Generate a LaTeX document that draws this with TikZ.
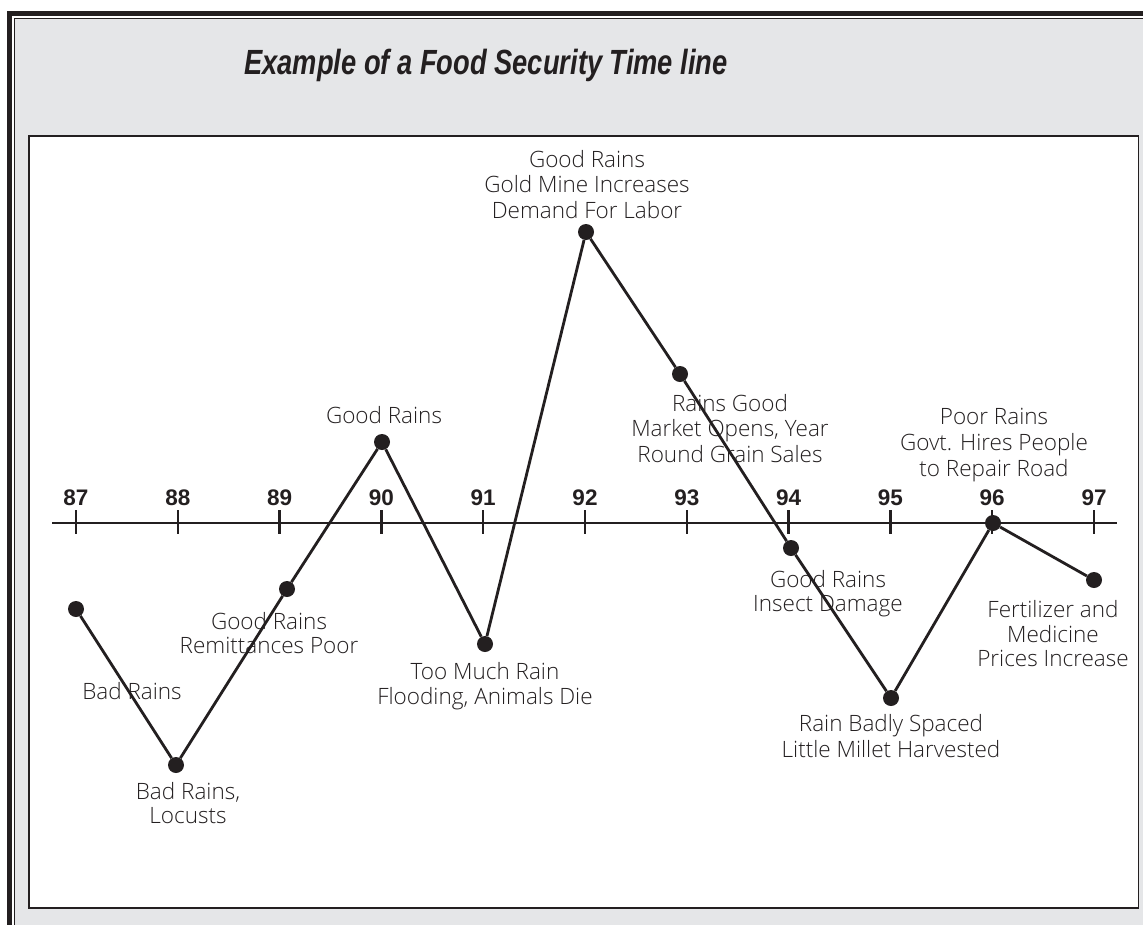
\documentclass[tikz,border=0pt]{standalone}
\usepackage{graphicx}
\usepackage{fontspec}
\setmainfont{Open Sans}[UprightFont={* Light}]
\newfontfamily\arialfont{Liberation Sans}
\definecolor{panelgray}{RGB}{229,230,232}
\definecolor{ink}{RGB}{35,31,32}
\newcommand\lst{\rule[-7.5pt]{0pt}{24pt}}
\begin{document}
\begin{tikzpicture}[x=1pt,y=-1pt,
  dot/.style={circle,fill=ink,inner sep=0pt,minimum size=16pt},
  conn/.style={draw=ink,line width=2.8pt},
  lbl/.style={align=center,inner sep=0pt,font=\fontsize{22.5}{24}\selectfont,text=ink},
  yr/.style={anchor=base,inner sep=0pt,font=\arialfont\bfseries\fontsize{22.5}{24}\selectfont,text=ink},
  tickmark/.style={draw=ink,line width=2.4pt}]
\useasboundingbox (0,0) rectangle (1143,924);
\clip (0,0) rectangle (1143,924);
\fill[white] (0,0) rectangle (1143,924);
% frames
\draw[line width=5pt, draw=ink] (9.5,13.5) rectangle (1170,950);
\filldraw[fill=panelgray, draw=ink, line width=1pt] (14,18.5) rectangle (1170,950);
\filldraw[fill=white, draw=ink, line width=1.5pt] (29,136) rectangle (1138.5,908);
% title
\node[anchor=base, inner sep=0pt, text=ink, font=\arialfont\bfseries\itshape\fontsize{35}{40}\selectfont] (title) at (486,74) {\scalebox{0.78}[1]{Example of a Food Security Time line}};
% axis
\coordinate (axL) at (52,523);
\coordinate (axR) at (1117,523);
\draw[draw=ink, line width=1.4pt] (axL) -- (axR);
\foreach \yy [count=\i from 0] in {87,...,97} {
  \pgfmathsetmacro\xx{76+101.8*\i}
  \draw[tickmark] (\xx,510) -- (\xx,534);
  \node[yr] (y\yy) at (\xx,505) {\yy};
}
% points
\node[dot] (p87) at (76,609) {};
\node[dot] (p88) at (176,765) {};
\node[dot] (p89) at (287,589) {};
\node[dot] (p90) at (382,442) {};
\node[dot] (p91) at (485,644) {};
\node[dot] (p92) at (586,232) {};
\node[dot] (p93) at (680,374) {};
\node[dot] (p94) at (791,548) {};
\node[dot] (p95) at (891,698) {};
\node[dot] (p96) at (993,523) {};
\node[dot] (p97) at (1094,580) {};
\draw[conn] (p87) -- (p88);
\draw[conn] (p88) -- (p89);
\draw[conn] (p89) -- (p90);
\draw[conn] (p90) -- (p91);
\draw[conn] (p91) -- (p92);
\draw[conn] (p92) -- (p93);
\draw[conn] (p93) -- (p94);
\draw[conn] (p94) -- (p95);
\draw[conn] (p95) -- (p96);
\draw[conn] (p96) -- (p97);
% labels
\node[lbl] (l87) at (132,695) {\lst Bad Rains};
\node[lbl] (l88) at (188,807) {\lst Bad Rains,\\\lst Locusts};
\node[lbl] (l89) at (269,636.5) {\lst Good Rains\\\lst Remittances Poor};
\node[lbl] (l90) at (384,419) {\lst Good Rains};
\node[lbl] (l91) at (485,687) {\lst Too Much Rain\\\lst Flooding, Animals Die};
\node[lbl] (l92) at (587,188) {\lst Good Rains\\\lst Gold Mine Increases\\\lst Demand For Labor};
\node[lbl] (l93) at (730,432) {\lst Rains Good\\\lst Market Opens, Year\\\lst Round Grain Sales};
\node[lbl] (l94) at (828,595) {\lst Good Rains\\\lst Insect Damage};
\node[lbl] (l95) at (891,739.5) {\lst Rain Badly Spaced\\\lst Little Millet Harvested};
\node[lbl] (l96) at (994,446) {\lst Poor Rains\\\lst Govt. Hires People\\\lst to Repair Road};
\node[lbl] (l97) at (1053,637) {\lst Fertilizer and\\\lst Medicine\\\lst Prices Increase};
\end{tikzpicture}
\end{document}
